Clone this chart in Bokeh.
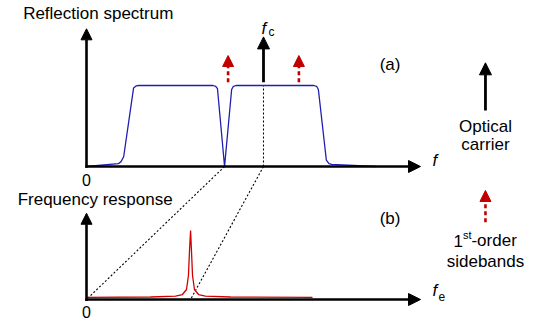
from bokeh.plotting import figure
from bokeh.models import Range1d, Arrow, NormalHead, Label
from bokeh.embed import file_html
from bokeh.resources import INLINE

# ---------------- data ----------------
# (a) reflection spectrum: frequency f (arb. units) vs normalised reflectance
refl_f = [0.0, 1.80, 1.95, 2.10, 2.66, 2.80, 2.95, 7.15, 7.30, 7.40, 7.80,
          8.20, 8.30, 8.45, 12.85, 13.00, 13.10, 13.55, 13.70, 13.85, 16.33]
refl_r = [0.0, 0.035, 0.06, 0.12, 0.97, 0.995, 1.0, 1.0, 0.99, 0.96, 0.0,
          0.95, 0.99, 1.0, 1.0, 0.99, 0.95, 0.08, 0.035, 0.025, 0.0]

carrier_f = 10.0          # optical carrier f_c
sideband_f = [8.0, 12.0]  # first-order sidebands
notch_f = 7.8             # notch of the reflection spectrum

# (b) frequency response: electrical frequency f_e vs normalised response
resp_f = [0.0, 3.62, 5.03, 5.42, 5.65, 5.76, 5.82, 5.88, 5.93, 5.99, 6.10,
          6.33, 6.72, 8.14, 12.77]
resp_r = [0.03, 0.036, 0.05, 0.072, 0.145, 0.348, 0.71, 1.0, 0.71, 0.348,
          0.145, 0.072, 0.05, 0.036, 0.03]
resonance_fe = 5.88

# ---------------- layout helpers ----------------
W, H = 537, 325

def rng(px0, v0, px1, v1, size, flip):
    k = (px0 - px1) / (v1 - v0) if flip else (px1 - px0) / (v1 - v0)
    if flip:
        start = v0 - (size - px0) / k
    else:
        start = v0 - px0 / k
    return start, start + size / k

xs, xe = rng(86, 0.0, 263, 10.0, W, False)
ts, te = rng(166, 0.0, 85, 1.0, H, True)     # top panel (reflectance)
bs, be = rng(299, 0.0, 230, 1.0, H, True)    # bottom panel (response)

def bot_to_top(v):
    return ts + (v - bs) / (be - bs) * (te - ts)

p = figure(width=W, height=H, output_backend="svg", toolbar_location=None,
           x_range=Range1d(xs, xe), y_range=Range1d(ts, te),
           min_border=0, outline_line_color=None)
p.extra_y_ranges = {"resp": Range1d(bs, be)}
p.xaxis.visible = False
p.yaxis.visible = False
p.xgrid.visible = False
p.ygrid.visible = False
p.background_fill_color = "white"
p.border_fill_color = "white"

FONT = "Liberation Sans"
BLACK = "#000000"
RED = "#c00000"
BLUE = "#1f1fb0"

# dotted guide lines
p.line([carrier_f, carrier_f], [0.0, 1.0], line_color=BLACK, line_width=1.1, line_dash="2 2")
p.line([notch_f, 0.0], [0.0, bot_to_top(0.0)], line_color=BLACK, line_width=1.1, line_dash="2 2")
p.line([carrier_f, resonance_fe], [0.0, bot_to_top(0.0)], line_color=BLACK, line_width=1.1, line_dash="2 2")

# curves
p.line(refl_f, refl_r, line_color=BLUE, line_width=1.3)
p.line(resp_f, resp_r, y_range_name="resp", line_color="#d00000", line_width=1.3)

def arrow(x0, y0, x1, y1, color, width, size, dash="solid", yr="default"):
    a = Arrow(x_start=x0, y_start=y0, x_end=x1, y_end=y1,
              line_color=color, line_width=width, line_dash=dash,
              end=NormalHead(size=size, fill_color=color, line_color=color, line_width=1))
    if yr != "default":
        a.y_range_name = yr
    p.add_layout(a)

# axes of (a)
arrow(0, -0.015, 0, 1.70, BLACK, 2.6, 11)
arrow(-0.07, 0, 18.87, 0, BLACK, 2.6, 12)
# axes of (b)
arrow(0, -0.02, 0, 1.25, BLACK, 2.6, 11, yr="resp")
arrow(-0.07, 0, 18.87, 0, BLACK, 2.6, 12, yr="resp")

# carrier and sidebands
arrow(carrier_f, 1.04, carrier_f, 1.60, BLACK, 2.8, 12)
for sf in sideband_f:
    arrow(sf, 1.04, sf, 1.37, RED, 2.6, 11, dash="4 3")

# legend arrows
arrow(22.54, 0.69, 22.54, 1.28, BLACK, 2.8, 12)
arrow(22.54, 1.12, 22.54, 1.58, RED, 2.6, 11, dash="4 3", yr="resp")

def label(x, y, text, size=17, align="left", style="normal",
          yr="default", xo=0, yo=0):
    l = Label(x=x, y=y, text=text, text_font=FONT, text_font_size=f"{size}px",
              text_align=align, text_baseline="middle", text_font_style=style,
              text_color=BLACK, x_offset=xo, y_offset=yo)
    if yr != "default":
        l.y_range_name = yr
    p.add_layout(l)

label(-3.58, 1.889, "Reflection spectrum")
label(-3.89, 1.449, "Frequency response", yr="resp")
label(0.0, -0.169, "0", size=16, align="center")
label(0.0, -0.174, "0", size=16, align="center", yr="resp")

# axis names
label(19.55, 0.074, "f", size=17, style="italic")
label(19.55, 0.13, "f", size=17, style="italic", yr="resp")
label(19.55, 0.05, "e", size=12, yr="resp", xo=6)
label(carrier_f, 1.704, "f", size=17, style="italic", xo=-2)
label(carrier_f, 1.66, "c", size=12, xo=5)

label(17.15, 1.259, "(a)", align="center")
label(17.15, 1.174, "(b)", align="center", yr="resp")

label(22.54, 0.494, "Optical", align="center")
label(22.54, 0.272, "carrier", align="center")

label(22.54, 0.855, "1", yr="resp", xo=-32)
label(22.54, 0.93, "st", size=11, yr="resp", xo=-22.5)
label(22.54, 0.855, "-order", yr="resp", xo=-14)
label(22.54, 0.551, "sidebands", align="center", yr="resp")

open("out.html", "w").write(file_html(p, INLINE))
